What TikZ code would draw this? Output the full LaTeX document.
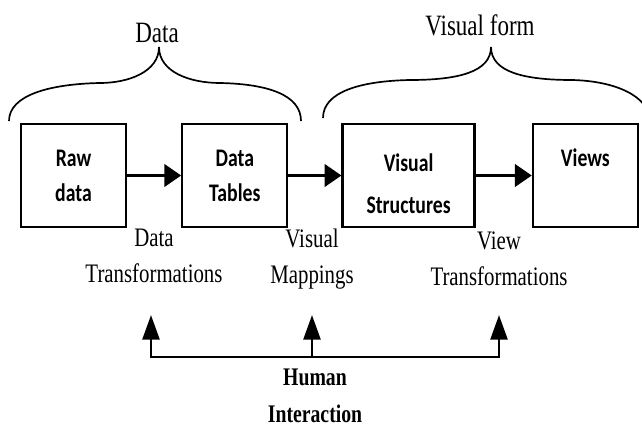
\documentclass[tikz,border=0pt]{standalone}
\usepackage{fontspec}
\setmainfont{Liberation Serif}[FakeStretch=0.78]
\newfontfamily\boxfont{Carlito}[FakeStretch=0.78]
\usepackage{tikz}
\usetikzlibrary{arrows.meta,positioning}
\tikzstyle{stage} = [rectangle, minimum width=2.625cm, minimum height=2.575cm, text centered, align=center, draw=black, line width=1.6pt, font=\boxfont\bfseries\fontsize{18pt}{25pt}\selectfont]
\tikzstyle{arrow} = [line width=2pt, -{Triangle[length=12pt,width=16pt]}]
\tikzstyle{uparrow} = [line width=2pt, -{Triangle[length=17.5pt,width=12pt]}]
\tikzstyle{bus} = [line width=2pt, {Triangle[length=17.5pt,width=12pt]}-{Triangle[length=17.5pt,width=12pt]}]
\tikzstyle{brace} = [line width=1.2pt]
\tikzstyle{toplbl} = [anchor=base, inner sep=0pt, font=\fontsize{21pt}{25pt}\selectfont]
\tikzstyle{sublbl} = [anchor=north, inner sep=0pt, align=center, font=\fontsize{19pt}{25.6pt}\selectfont]
\tikzstyle{hlbl} = [anchor=north, inner sep=0pt, align=center, font=\bfseries\fontsize{18pt}{26pt}\selectfont]
\begin{document}
\begin{tikzpicture}[x=0.025cm,y=-0.025cm]
\useasboundingbox (0,0) rectangle (642,426);
\clip (0,0) rectangle (642,426);

% braces
\draw [brace] (9,121) .. controls (9,95) and (50,84) .. (100,83) .. controls (128,83) and (159,72) .. (159,47)
  .. controls (159,72) and (190,83) .. (220,83) .. controls (268,84) and (301,95) .. (301,121);
\draw [brace] (323,118) .. controls (323,92) and (360,81) .. (410,80) .. controls (458,80) and (491,72) .. (491,47)
  .. controls (491,72) and (524,80) .. (572,80) .. controls (615,81) and (650,96) .. (650,122);
\node (datalbl) [toplbl] at (157,43) {Data};
\node (formlbl) [toplbl] at (480,36) {Visual form};

\node (raw) [stage] at (73.5,175.5) {Raw\\data};
\node (tables) [stage, right=1.35cm of raw] {Data\\Tables};
\node (vstruct) [stage, minimum width=3.3cm, right=1.325cm of tables] {Visual\\[5pt]Structures\\[-36pt]\mbox{}};
\node (views) [stage, right=1.4cm of vstruct] {Views\\\mbox{}};

\draw [arrow] (raw) -- (tables);
\draw [arrow] (tables) -- (vstruct);
\draw [arrow] (vstruct) -- (views);

\node (dtrans) [sublbl] at (154,229) {Data\\Transformations};
\node (vmap) [sublbl] at (312,229) {Visual\\Mappings};
\node (vtrans) [sublbl] at (499,232) {View\\Transformations};

\coordinate (tipl) at (151,315);
\coordinate (tipm) at (312,315);
\coordinate (tipr) at (499,315);
\coordinate (busm) at (312,357);
\coordinate (busr) at (499,357);
\draw [bus] (tipl) |- (busr) -- (tipr);
\draw [uparrow] (busm) -- (tipm);
\node (human) [hlbl] at (315,369) {Human\\Interaction};

\end{tikzpicture}
\end{document}
